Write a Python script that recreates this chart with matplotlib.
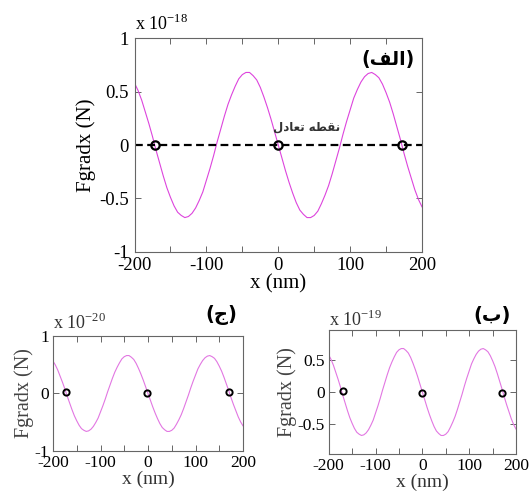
import matplotlib.pyplot as plt
import numpy as np

plt.rcParams['font.family'] = ['Liberation Serif', 'DejaVu Sans']
plt.rcParams['mathtext.fontset'] = 'custom'
plt.rcParams['mathtext.rm'] = 'Liberation Serif'

# x positions (nm) and force values (in units of the axis multiplier)
x_nm = list(range(-200, 201, 5))
fgrad_left = [0.58, 0.51, 0.42, 0.31, 0.20, 0.08, -0.05, -0.17, -0.29, -0.40,
              -0.49, -0.57, -0.63, -0.66, -0.68, -0.67, -0.64, -0.59, -0.52, -0.44,
              -0.33, -0.22, -0.10, 0.03, 0.15, 0.27, 0.38, 0.47, 0.55, 0.62,
              0.66, 0.68, 0.68, 0.65, 0.61, 0.54, 0.45, 0.35, 0.24, 0.12, 0.0]
fgrad = fgrad_left + [-v for v in fgrad_left[-2::-1]]

# equilibrium points (nm, value) for each panel
eq_a_x = [-172, 0, 172]
eq_a_y = [0, 0, 0]
eq_c_x = [-172, -2, 170]
eq_c_y = [0.02, 0.01, 0.02]
eq_b_x = [-170, 0, 170]
eq_b_y = [0.01, -0.01, -0.01]

fig = plt.figure(figsize=(5.3, 4.93), dpi=100)

def style_axes(ax, fs, pad=4):
    for s in ax.spines.values():
        s.set_color('#666666')
        s.set_linewidth(0.8)
    ax.set_xlim(-200, 200)
    ax.set_xticks([-200, -100, 0, 100, 200])
    ax.set_xticks([-150, -50, 50, 150], minor=True)
    ax.set_xticklabels(['-200', '-100', '0', '100', '200'])
    ax.tick_params(which='both', direction='in', top=True, right=True,
                   length=4, width=0.7, color='#666666', labelsize=fs, pad=pad)

magenta = '#dd44dd'
light_mag = '#e277e2'

# (الف) top panel
ax1 = fig.add_axes([0.2538, 0.4894, 0.5425, 0.4329])
ax1.plot(x_nm, fgrad, color=magenta, lw=0.8)
ax1.plot([-200, 200], [0, 0], color='black', lw=1.6, ls=(0, (3.5, 2)))
ax1.plot(eq_a_x, eq_a_y, 'o', mfc='none', mec='black', ms=6, mew=1.6)
ax1.set_ylim(-1, 1)
ax1.set_yticks([-1, -0.5, 0, 0.5, 1])
ax1.set_yticklabels(['-1', '-0.5', '0', '0.5', '1'])
style_axes(ax1, 13.5)
ax1.set_xlabel('x (nm)', fontsize=15, labelpad=0)
ax1.set_ylabel('Fgradx (N)', fontsize=15, labelpad=2)
ax1.text(0.0, 1.02, r'x 10$^{\mathrm{-18}}$', transform=ax1.transAxes,
         fontsize=13, ha='left', va='bottom')
ax1.text(0.975, 0.9, '(ﻒﻟﺍ)', transform=ax1.transAxes, fontsize=13.5,
         fontweight='bold', family='DejaVu Sans', ha='right', va='center')
ax1.text(40, 0.17, 'ﻝﺩﺎﻌﺗ ﻪﻄﻘﻧ', fontsize=8.5, fontweight='bold',
         family='DejaVu Sans', color='#333333', ha='center', va='center')

# (ج) bottom-left panel
ax2 = fig.add_axes([0.1, 0.0852, 0.3585, 0.2333])
ax2.plot(x_nm, [v * 0.97 for v in fgrad], color=light_mag, lw=0.8)
ax2.plot(eq_c_x, eq_c_y, 'o', mfc='none', mec='black', ms=4.5, mew=1.4)
ax2.set_ylim(-1, 1)
ax2.set_yticks([-1, 0, 1])
ax2.set_yticklabels(['-1', '0', '1'])
style_axes(ax2, 12.5, pad=3)
ax2.set_xlabel('x (nm)', fontsize=14, labelpad=0, color='#333333')
ax2.set_ylabel('Fgradx (N)', fontsize=14.5, labelpad=0, color='#444444')
ax2.text(0.0, 1.03, r'x 10$^{\mathrm{-20}}$', transform=ax2.transAxes,
         fontsize=13, ha='left', va='bottom', color='#333333')
ax2.text(0.97, 1.18, '(ﺝ)', transform=ax2.transAxes, fontsize=14,
         fontweight='bold', family='DejaVu Sans', ha='right', va='center')

# (ب) bottom-right panel
ax3 = fig.add_axes([0.6202, 0.0791, 0.3534, 0.2515])
ax3.plot(x_nm, fgrad, color=light_mag, lw=0.8)
ax3.plot(eq_b_x, eq_b_y, 'o', mfc='none', mec='black', ms=4.5, mew=1.4)
ax3.set_ylim(-0.97, 0.97)
ax3.set_yticks([-0.5, 0, 0.5])
ax3.set_yticklabels(['-0.5', '0', '0.5'])
style_axes(ax3, 12.5, pad=3)
ax3.set_xlabel('x (nm)', fontsize=14, labelpad=0, color='#333333')
ax3.set_ylabel('Fgradx (N)', fontsize=14.5, labelpad=0, color='#444444')
ax3.text(0.0, 1.0, r'x 10$^{\mathrm{-19}}$', transform=ax3.transAxes,
         fontsize=13, ha='left', va='bottom', color='#333333')
ax3.text(0.97, 1.12, '(ﺏ)', transform=ax3.transAxes, fontsize=14,
         fontweight='bold', family='DejaVu Sans', ha='right', va='center')

fig.savefig('out.png', dpi=100)
